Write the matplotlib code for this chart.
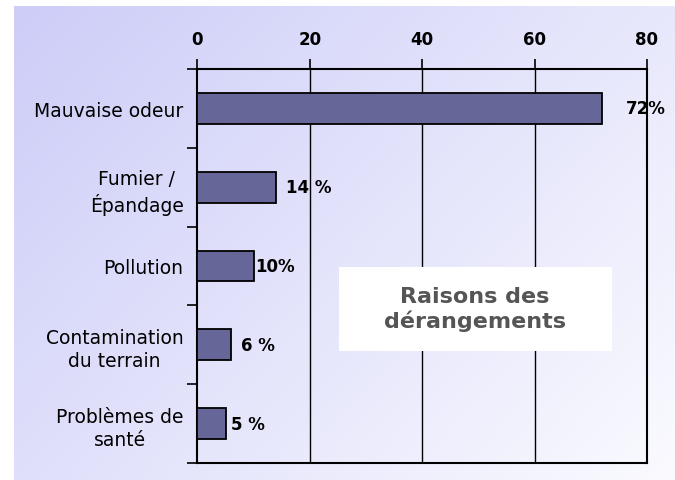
import numpy as np
import matplotlib
matplotlib.use('Agg')
import matplotlib.pyplot as plt
from matplotlib.colors import LinearSegmentedColormap
from matplotlib.patches import Rectangle

# data
categories = ['Mauvaise odeur', 'Fumier /\nÉpandage', 'Pollution',
              'Contamination\ndu terrain', 'Problèmes de\nsanté']
values = [72, 14, 10, 6, 5]
value_labels = ['72%', '14 %', '10%', '6 %', '5 %']
x_ticks = [0, 20, 40, 60, 80]

# label offsets (points) from bar end
label_offsets = [17, 7, 1, 7, 4]

fig = plt.figure(figsize=(6.75, 4.81), dpi=100)
fig.patch.set_facecolor('white')

# gradient background panel
bg = fig.add_axes([14 / 675, 0, 1 - 14 / 675, 474 / 481])
bg.axis('off')
gx, gy = np.meshgrid(np.linspace(0, 1, 200), np.linspace(0, 1, 200))
grad = 0.6 * gx + 0.4 * gy
cmap = LinearSegmentedColormap.from_list('bg', ['#cdcdf8', '#fafaff'])
bg.imshow(grad, cmap=cmap, aspect='auto', extent=[0, 1, 0, 1], origin='upper')

# main chart
ax = fig.add_axes([197.5 / 675, 17 / 481, 449.5 / 675, 394 / 481])
ax.set_facecolor('none')
y = np.arange(len(categories))
ax.barh(y, values, height=0.39, color='#666699', edgecolor='black', linewidth=1.3, zorder=3)

ax.set_xlim(0, 80)
ax.set_ylim(len(categories) - 0.5, -0.5)

ax.xaxis.tick_top()
ax.set_xticks(x_ticks)
ax.set_xticklabels([str(t) for t in x_ticks], fontsize=12, fontweight='bold')
ax.tick_params(axis='x', direction='out', length=7, width=1.2, pad=8, colors='black')
for t in x_ticks[1:-1]:
    ax.axvline(t, color='black', linewidth=1.0, zorder=1)

ax.set_yticks(y)
ax.set_yticklabels(categories, fontsize=13.5, ha='right', multialignment='center',
                   linespacing=1.3)
ax.tick_params(axis='y', length=0, pad=10)
ax.set_yticks(np.arange(len(categories) + 1) - 0.5, minor=True)
ax.tick_params(axis='y', which='minor', direction='out', length=7, width=1.2)

for side in ['top', 'bottom', 'left', 'right']:
    ax.spines[side].set_linewidth(1.5)
    ax.spines[side].set_color('black')

for i, (v, lab) in enumerate(zip(values, value_labels)):
    ax.annotate(lab, xy=(v, i), xytext=(label_offsets[i], 0),
                textcoords='offset points', ha='left', va='center',
                fontsize=12, fontweight='bold', zorder=4)

# title box
ax.add_patch(Rectangle((0.315, 0.284), 0.607, 0.213, transform=ax.transAxes,
                       facecolor='white', edgecolor='none', zorder=5))
ax.text(0.617, 0.392, 'Raisons des\ndérangements', transform=ax.transAxes,
        ha='center', va='center', fontsize=16, fontweight='bold',
        color='#555555', linespacing=1.2, zorder=6)

fig.savefig('out.png', dpi=100)
